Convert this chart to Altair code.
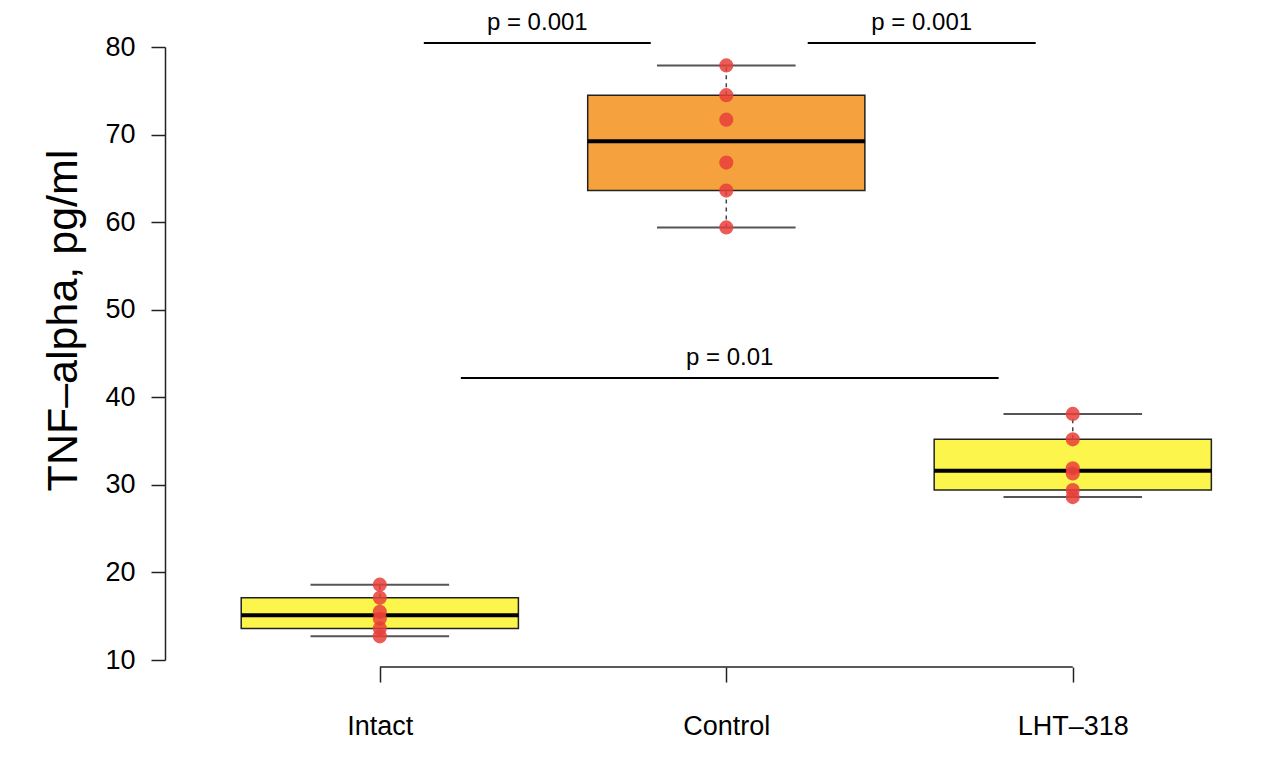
import json
import altair as alt
import numpy as np
import pandas as pd

# ---- data ----
groups = ["Intact", "Control", "LHT–318"]
intact = [18.6, 17.1, 15.5, 14.7, 13.6, 12.7]
control = [77.9, 74.5, 71.7, 66.8, 63.6, 59.4]
lht = [38.1, 35.2, 31.9, 31.3, 29.4, 28.6]
box_colors = ["#FBF54C", "#F4A13E", "#FBF54C"]

y_ticks = [10, 20, 30, 40, 50, 60, 70, 80]

# significance annotations (data units)
ann_text = ["p = 0.001", "p = 0.001", "p = 0.01"]
ann_x1 = [1.127, 2.235, 1.234]
ann_x2 = [1.782, 2.893, 2.786]
ann_line_y = [80.46, 80.46, 42.2]
ann_text_y = [81.95, 81.95, 43.7]

FONT = "Liberation Sans"


def fivenum(v):
    s = sorted(v)
    n = len(s)
    n4 = np.floor((n + 3) / 2) / 2
    d = [1, n4, (n + 1) / 2, n + 1 - n4, n]
    return [0.5 * (s[int(np.floor(i)) - 1] + s[int(np.ceil(i)) - 1]) for i in d]


series = [intact, control, lht]
pts_rows, box_rows = [], []
for i, (g, vals) in enumerate(zip(groups, series)):
    pos = i + 1
    for v in vals:
        pts_rows.append({"group": g, "pos": pos, "value": v})
    mn, q1, md, q3, mx = fivenum(vals)
    box_rows.append({"group": g, "pos": pos, "lo": pos - 0.4, "hi": pos + 0.4,
                     "clo": pos - 0.2, "chi": pos + 0.2,
                     "mn": mn, "q1": q1, "md": md, "q3": q3, "mx": mx,
                     "color": box_colors[i]})
pts = pd.DataFrame(pts_rows)
box = pd.DataFrame(box_rows)
ann = pd.DataFrame({"text": ann_text, "x1": ann_x1, "x2": ann_x2,
                    "xm": [(a + b) / 2 for a, b in zip(ann_x1, ann_x2)],
                    "ly": ann_line_y, "ty": ann_text_y})
xline = pd.DataFrame({"a": [1], "b": [len(groups)]})

xs = alt.Scale(domain=[0.38, 3.5], nice=False, zero=False)
ys = alt.Scale(domain=[10, 80], nice=False, zero=False)

xaxis = alt.Axis(values=[1, 2, 3], labelExpr=f"{json.dumps(groups, ensure_ascii=False)}[datum.value - 1]",
                 domain=False, grid=False, tickSize=15, tickWidth=1.5, tickColor="#222",
                 offset=7, labelPadding=31, labelFontSize=27, labelFont=FONT,
                 labelColor="black", title=None)
yaxis = alt.Axis(values=y_ticks, grid=False, tickSize=14, tickWidth=1.5, tickColor="#222",
                 domainColor="#222", domainWidth=1.5, labelPadding=16, labelFontSize=27,
                 labelFont=FONT, labelColor="black", title="TNF–alpha, pg/ml",
                 titleFont=FONT, titleFontSize=43, titleFontWeight="normal",
                 titleColor="black", titlePadding=19, titleY=273)


def X(f):
    return alt.X(f, type="quantitative", scale=xs, axis=xaxis)


def Y(f):
    return alt.Y(f, type="quantitative", scale=ys, axis=yaxis)


boxes = alt.Chart(box).mark_bar(stroke="#222", strokeWidth=1.5).encode(
    x=X("lo"), x2="hi", y=Y("q1"), y2="q3",
    fill=alt.Fill("color:N", scale=None))
whisk_hi = alt.Chart(box).mark_rule(color="#444", strokeWidth=1.5, strokeDash=[4, 4]).encode(
    x=X("pos"), y=Y("q3"), y2="mx")
whisk_lo = alt.Chart(box).mark_rule(color="#444", strokeWidth=1.5, strokeDash=[4, 4]).encode(
    x=X("pos"), y=Y("mn"), y2="q1")
cap_hi = alt.Chart(box).mark_rule(color="#555", strokeWidth=2).encode(
    x=X("clo"), x2="chi", y=Y("mx"))
cap_lo = alt.Chart(box).mark_rule(color="#555", strokeWidth=2).encode(
    x=X("clo"), x2="chi", y=Y("mn"))
median = alt.Chart(box).mark_rule(color="black", strokeWidth=4).encode(
    x=X("lo"), x2="hi", y=Y("md"))
points = alt.Chart(pts).mark_circle(size=200, color="#E8403A", opacity=0.85).encode(
    x=X("pos"), y=Y("value"))
ann_lines = alt.Chart(ann).mark_rule(color="black", strokeWidth=2).encode(
    x=X("x1"), x2="x2", y=Y("ly"))
ann_labels = alt.Chart(ann).mark_text(font=FONT, fontSize=24, baseline="alphabetic",
                                      align="center", color="black").encode(
    x=X("xm"), y=Y("ty"), text="text:N")
x_domain = alt.Chart(xline).mark_rule(color="#222", strokeWidth=1.5).encode(
    x=X("a"), x2="b", y=alt.value(620))

chart = alt.layer(
    boxes, whisk_hi, whisk_lo, cap_hi, cap_lo, median, points,
    ann_lines, ann_labels, x_domain
).properties(
    width=1081, height=613,
    autosize=alt.AutoSizeParams(type="none"),
    padding={"left": 165, "top": 47, "right": 16, "bottom": 102},
).configure(background="white").configure_view(strokeWidth=0, stroke=None)

chart.save("out.html", embed_options={"renderer": "svg", "actions": False})
